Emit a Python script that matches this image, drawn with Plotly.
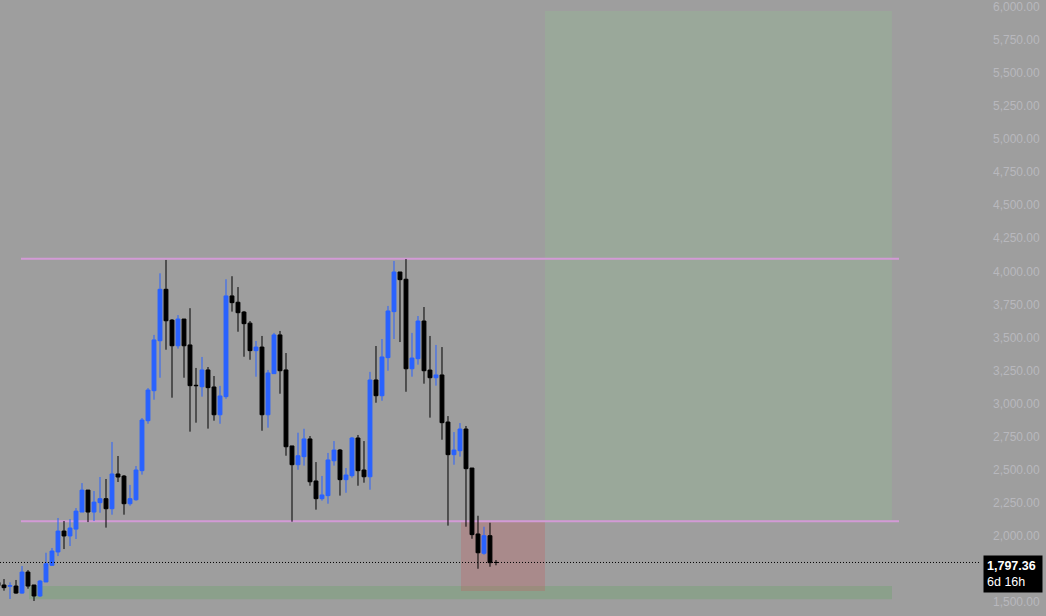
import plotly.graph_objects as go

# Weekly candles (index 0 is the partially visible bar at the left edge)
opens = [1647, 1627, 1618, 1619, 1566, 1725, 1627, 1544, 1650, 1776, 1877,
         2035, 1998, 2050, 2179, 2345, 2179, 2250, 2280, 2204, 2467, 2451,
         2242, 2272, 2492, 2870, 3097, 3475, 3864, 3631, 3437, 3639, 3443,
         3138, 3127, 3254, 3125, 2915, 3052, 3814, 3766, 3692, 3608, 3400,
         3427, 2915, 3226, 3519, 3254, 2679, 2537, 2598, 2732, 2414, 2280,
         2303, 2567, 2648, 2424, 2454, 2739, 2497, 2446, 3178, 3059, 3347,
         3695, 3995, 3940, 3263, 3339, 3624, 3253, 3195, 3216, 2860, 2613,
         2643, 2807, 2512, 2013, 1867, 2000, 1797.5]
highs = [1652, 1672, 1647, 1665, 1771, 1740, 1627, 1665, 1871, 1907, 2134,
         2111, 2126, 2209, 2398, 2345, 2338, 2444, 2429, 2709, 2603, 2459,
         2384, 2527, 2890, 3117, 3519, 3985, 4086, 3639, 3669, 3639, 3721,
         3269, 3352, 3276, 3208, 3133, 3940, 3963, 3881, 3700, 3624, 3473,
         3511, 3254, 3534, 3549, 3382, 2679, 2779, 2809, 2754, 2557, 2452,
         2626, 2716, 2656, 2512, 2747, 2762, 2716, 3239, 3435, 3488, 3738,
         4078, 3995, 4093, 3534, 3662, 3730, 3511, 3443, 3427, 2905, 2784,
         2852, 2830, 2512, 2151, 2068, 2098, 1816]
lows = [1618, 1584, 1521, 1561, 1561, 1599, 1506, 1536, 1650, 1771, 1846,
        1899, 1922, 1975, 2179, 2103, 2111, 2174, 2061, 2159, 2406, 2159,
        2227, 2265, 2462, 2847, 3029, 3195, 3407, 3044, 3415, 3195, 2787,
        2855, 3052, 2810, 2870, 2847, 3036, 3695, 3543, 3354, 3331, 3203,
        2794, 2817, 3226, 3074, 2605, 2106, 2499, 2530, 2378, 2197, 2265,
        2242, 2530, 2303, 2325, 2439, 2378, 2401, 2348, 3006, 3021, 3248,
        3488, 3465, 3089, 3203, 3294, 3150, 2893, 3135, 2726, 2076, 2537,
        2598, 2068, 1977, 1750, 1856, 1765, 1776]
closes = [1622, 1607, 1622, 1566, 1725, 1619, 1544, 1657, 1788, 1884, 2035,
          1998, 2058, 2186, 2345, 2179, 2254, 2280, 2204, 2467, 2444, 2242,
          2280, 2497, 2875, 3102, 3481, 3864, 3626, 3437, 3639, 3437, 3135,
          3135, 3254, 3120, 2915, 3057, 3814, 3763, 3687, 3604, 3400, 3427,
          2915, 3231, 3519, 3248, 2673, 2537, 2605, 2732, 2408, 2280, 2308,
          2573, 2648, 2424, 2459, 2739, 2492, 2446, 3178, 3059, 3352, 3700,
          3995, 3937, 3263, 3344, 3624, 3248, 3195, 3216, 2855, 2613, 2648,
          2807, 2507, 2008, 1871, 2000, 1796, 1797.36]
bar_index = list(range(len(opens)))

last_price = 1797.36
countdown = "6d 16h"

# Horizontal levels and position zones (bar-index / price units)
resistance = 4095
support = 2110
level_start, level_end = 3.83, 150.17
target_zone = dict(x0=91.17, x1=149, y0=2110, y1=5970)
stop_zone = dict(x0=77.17, x1=91.17, y0=1582, y1=2110)
lower_zone = dict(x0=5.17, x1=149, y0=1519, y1=1620)

# 1,750 sits behind the last-price label in the reference
tick_vals = [1500] + list(range(2000, 6001, 250))
tick_text = [f"{v:,.2f}" for v in tick_vals]

BG = "#9e9e9e"
UP = "#2962ff"
DOWN = "#000000"

fig = go.Figure()
fig.add_trace(go.Candlestick(
    x=bar_index, open=opens, high=highs, low=lows, close=closes,
    increasing=dict(line=dict(color=UP, width=1), fillcolor=UP),
    decreasing=dict(line=dict(color=DOWN, width=1), fillcolor=DOWN),
    whiskerwidth=0, showlegend=False, hoverinfo="skip",
))

shapes = []
shapes.append(dict(type="rect", xref="x", yref="y", layer="below", line_width=0,
                   fillcolor="rgba(143,203,143,0.22)", **target_zone))
shapes.append(dict(type="rect", xref="x", yref="y", layer="below", line_width=0,
                   fillcolor="rgba(95,165,95,0.30)", **lower_zone))
shapes.append(dict(type="rect", xref="x", yref="y", layer="below", line_width=0,
                   fillcolor="rgba(205,80,85,0.25)", **stop_zone))
for lvl in (resistance, support):
    shapes.append(dict(type="line", xref="x", yref="y", layer="below",
                       x0=level_start, x1=level_end, y0=lvl, y1=lvl,
                       line=dict(color="#d39ad6", width=2)))
shapes.append(dict(type="line", xref="paper", yref="y", x0=0, x1=1,
                   y0=last_price, y1=last_price,
                   line=dict(color="#000000", width=1, dash="1px,2px")))

fig.update_layout(
    width=1046, height=616,
    margin=dict(l=0, r=66, t=0, b=0),
    paper_bgcolor=BG, plot_bgcolor=BG,
    shapes=shapes,
    showlegend=False,
    boxgap=0.08,
    xaxis=dict(visible=False, range=[0.333, 163.67],
               rangeslider=dict(visible=False), fixedrange=True),
    yaxis=dict(side="right", range=[1392.5, 6052.6], tickvals=tick_vals,
               ticktext=tick_text, showgrid=False, zeroline=False,
               showline=False, ticks="", ticklabelstandoff=12,
               fixedrange=True,
               tickfont=dict(family="Liberation Sans, Arial, sans-serif",
                             size=12, color="#b8b8bd")),
    annotations=[dict(
        xref="paper", yref="y", x=1.003, y=last_price,
        xanchor="left", yanchor="top", yshift=7.5,
        text=f"<b>{last_price:,.2f}</b><br>{countdown}",
        showarrow=False, align="left", bgcolor="#000000",
        borderpad=3, width=52,
        font=dict(family="Liberation Sans, Arial, sans-serif",
                  size=12.5, color="#ffffff"),
    )],
)

fig.write_html(
    "out.html",
    config={"displayModeBar": False},
    post_script="document.body.style.margin='0';document.body.style.overflow='hidden';",
)
